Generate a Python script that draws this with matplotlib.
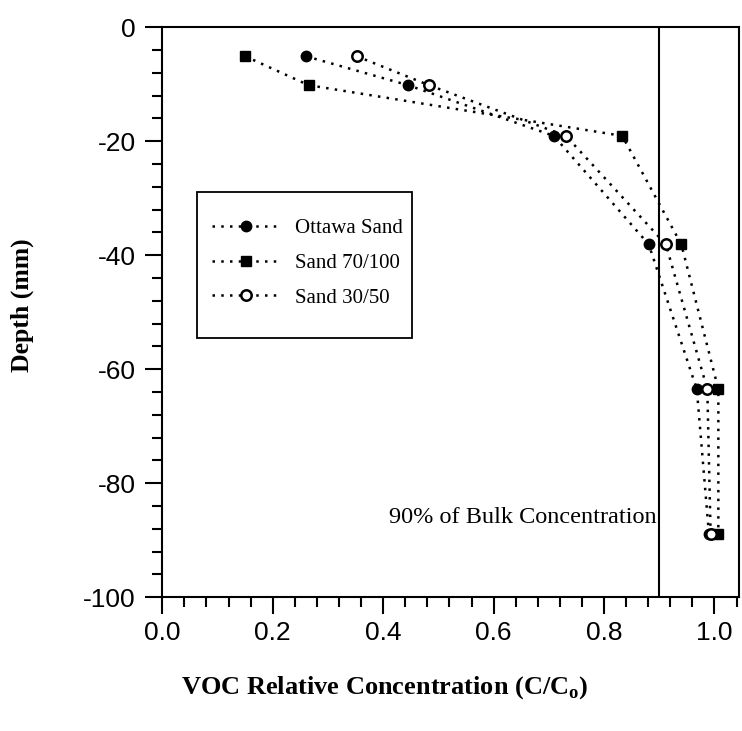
import matplotlib
matplotlib.use('Agg')
import matplotlib.pyplot as plt
from matplotlib.patches import Rectangle
from matplotlib.ticker import MultipleLocator

# depth of each sampling port (mm)
depth = [-5.08, -10.16, -19.05, -38.1, -63.5, -88.9]

ottawa = [0.26, 0.445, 0.709, 0.881, 0.968, 0.99]
sand_70_100 = [0.15, 0.265, 0.833, 0.94, 1.007, 1.007]
sand_30_50 = [0.352, 0.483, 0.731, 0.912, 0.987, 0.993]

bulk_line = 0.9

plt.rcParams['mathtext.fontset'] = 'custom'
plt.rcParams['mathtext.bf'] = 'Liberation Serif:bold'
plt.rcParams['mathtext.rm'] = 'Liberation Serif:bold'

fig = plt.figure(figsize=(7.42, 7.31), dpi=100)
ax = fig.add_axes([0.2187, 0.1829, 0.7777, 0.7798])

dot = (0, (1, 2.5))
ax.plot(ottawa, depth, color='black', linestyle=dot, lw=1.8,
        marker='o', ms=7.5, mfc='black', mec='black', label='Ottawa Sand')
ax.plot(sand_70_100, depth, color='black', linestyle=dot, lw=1.8,
        marker='s', ms=7, mfc='black', mec='black', label='Sand 70/100')
ax.plot(sand_30_50, depth, color='black', linestyle=dot, lw=1.8,
        marker='o', ms=7.5, mfc='white', mec='black', mew=1.8, label='Sand 30/50')

ax.axvline(bulk_line, color='black', lw=1.5)
ax.text(bulk_line - 0.004, -86, '90% of Bulk Concentration', ha='right', va='center',
        family='Liberation Serif', fontsize=17.5)

ax.set_xlim(0, 1.045)
ax.set_ylim(-100, 0)
ax.xaxis.set_minor_locator(MultipleLocator(0.04))
ax.yaxis.set_minor_locator(MultipleLocator(4))
ax.set_xticks([0.0, 0.2, 0.4, 0.6, 0.8, 1.0])
ax.set_xticklabels(['0.0', '0.2', '0.4', '0.6', '0.8', '1.0'])
ax.set_yticks([0, -20, -40, -60, -80, -100])
ax.set_yticklabels(['0', '-20', '-40', '-60', '-80', '-100'])

ax.tick_params(which='major', direction='out', length=12, width=1.5, pad=5,
               labelsize=19)
ax.tick_params(axis='y', which='major', pad=7)
ax.tick_params(which='minor', direction='out', length=7, width=1.5)
for lab in ax.get_xticklabels() + ax.get_yticklabels():
    lab.set_family('Liberation Sans')
for s in ax.spines.values():
    s.set_linewidth(1.5)

fig.text(385 / 742, 0.06, r'VOC Relative Concentration (C/C$_{\mathbf{o}}$)',
         family='Liberation Serif', fontweight='bold', fontsize=19,
         ha='center', va='center')
fig.text(0.03, 0.583, 'Depth (mm)', family='Liberation Serif', fontweight='bold',
         fontsize=18.5, rotation=90, ha='center', va='center')

# legend box drawn separately so its padding can be set per side
ax.add_patch(Rectangle((0.06, 0.455), 0.373, 0.256, transform=ax.transAxes,
                       facecolor='white', edgecolor='black', lw=1.3, zorder=4))
leg = ax.legend(loc='center', bbox_to_anchor=(0.252, 0.586), borderaxespad=0,
                prop={'family': 'Liberation Serif', 'size': 15},
                handlelength=3.3, handletextpad=0.7, labelspacing=0.72,
                borderpad=0.2, frameon=False)
leg.set_zorder(5)

fig.savefig('out.png', dpi=100)
